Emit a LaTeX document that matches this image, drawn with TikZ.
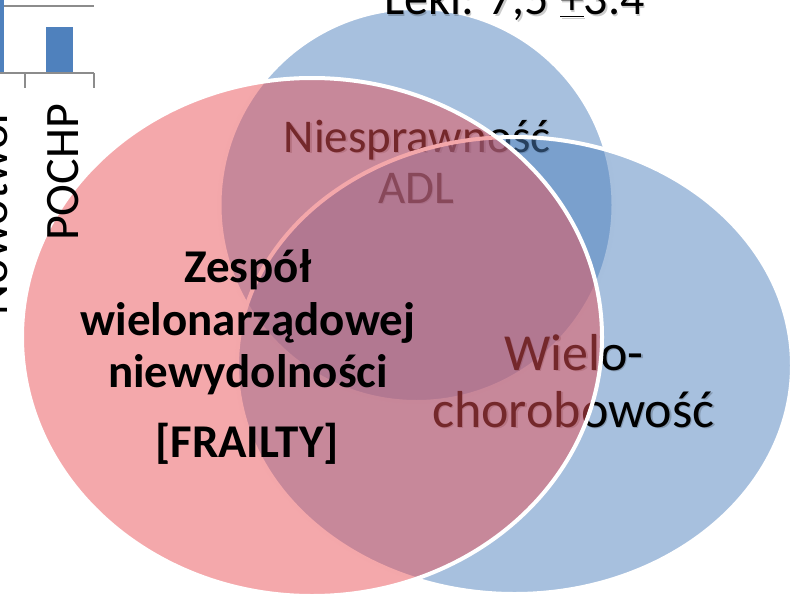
\documentclass[tikz,border=0pt]{standalone}
\usepackage{fontspec}
\setmainfont{Carlito}
\definecolor{vblue}{HTML}{4F81BD}
\definecolor{vpink}{HTML}{E95157}
\definecolor{axisgray}{HTML}{8C8C8C}
\tikzset{
  venn/.style={fill opacity=0.5, draw=white, line width=4pt},
  lbl/.style={anchor=base, inner sep=0pt, text=black},
  shd/.style={anchor=base, inner sep=0pt, text=black, text opacity=0.2},
  boldlbl/.style={anchor=base, inner sep=0pt, text=black, font=\fontsize{47}{56}\selectfont\bfseries},
  fA/.style={font=\fontsize{47}{56}\selectfont},
  fB/.style={font=\fontsize{52}{62}\selectfont},
  fC/.style={font=\fontsize{48}{58}\selectfont},
  chartline/.style={draw=axisgray, line width=1.5pt},
}
\begin{document}
\begin{tikzpicture}[x=1pt,y=-1pt]
\useasboundingbox (0,0) rectangle (794,594);
\clip (0,0) rectangle (794,594);

% top blue ellipse: Niesprawnosc ADL
\path[venn, fill=vblue] (416.5,205) ellipse [x radius=197pt, y radius=197pt];
\node[shd, fA] (s1) at (418.5,153.5) {Niesprawność};
\node[lbl, fA] (t1) at (417,152) {Niesprawność};
\node[shd, fA] (s2) at (417.5,204.5) {ADL};
\node[lbl, fA] (t2) at (416,203) {ADL};

% right blue ellipse: Wielochorobowosc
\path[venn, fill=vblue] (514.5,365.5) ellipse [x radius=277.5pt, y radius=228.5pt];
\node[shd, fB] (s3) at (575.5,371.5) {Wielo-};
\node[lbl, fB] (t3) at (574,370) {Wielo-};
\node[shd, fB] (s4) at (575,428.5) {chorobowość};
\node[lbl, fB] (t4) at (573.5,427) {chorobowość};

% pink ellipse: frailty
\path[venn, fill=vpink] (312,337) ellipse [x radius=290pt, y radius=259pt];
\node[boldlbl] (b1) at (248,282) {Zespół};
\node[boldlbl] (b2) at (248,335) {wielonarządowej};
\node[boldlbl] (b3) at (248,387) {niewydolności};
\node[boldlbl] (b4) at (247,457) {[FRAILTY]};

% bar chart fragment (top left)
\path[chartline] (0,6) -- (94,6);
\fill[vblue] (0,-2) rectangle (4,73);
\fill[vblue] (46,27) rectangle (73,73);
\path[chartline] (0,73) -- (94,73);
\path[chartline] (25,73) -- (25,88);
\path[chartline] (94,73) -- (94,88);
\node[lbl, fC, rotate=90] (c1) at (8,211.5) {Nowotwór};
\node[lbl, fC, rotate=90] (c2) at (78,172.5) {POCHP};

% top caption
\node[shd, fC] (s5) at (516,16.5) {Leki: 7,5 \underline{+}3.4};
\node[lbl, fC] (t5) at (514.5,15) {Leki: 7,5 \underline{+}3.4};
\end{tikzpicture}
\end{document}
